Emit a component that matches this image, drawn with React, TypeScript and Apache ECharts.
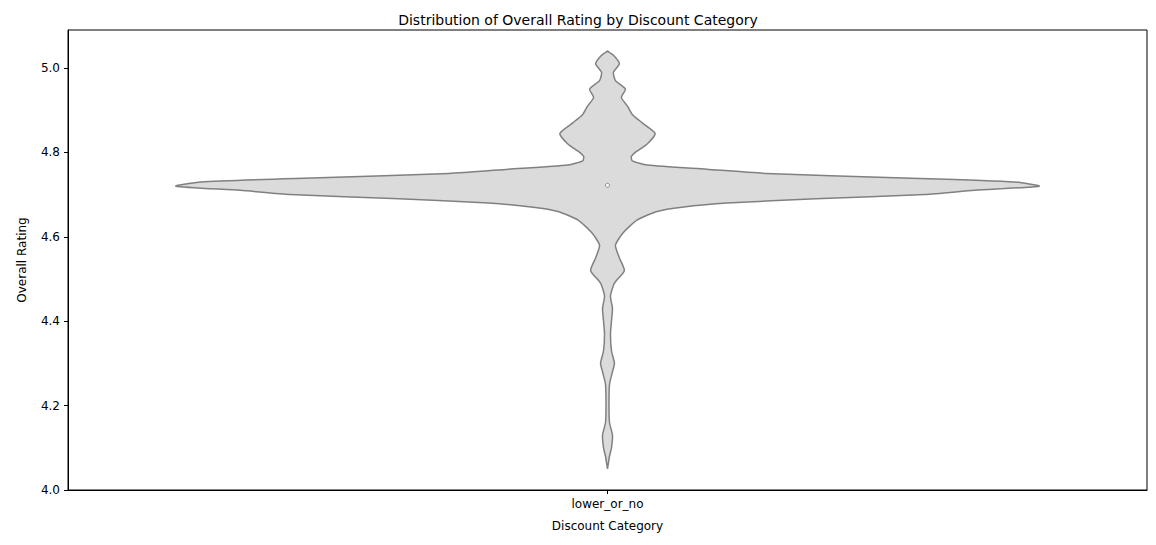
import React, { useRef, useEffect } from 'react'
import * as echarts from 'echarts'

const category = 'lower_or_no'
// rating values along the violin outline
const ratings = [4.05, 4.08, 4.1, 4.13, 4.16, 4.2, 4.25, 4.28, 4.3, 4.33, 4.37, 4.4, 4.43, 4.46, 4.49, 4.52, 4.55, 4.58, 4.61, 4.64, 4.66, 4.67, 4.68, 4.69, 4.7, 4.71, 4.72, 4.73, 4.74, 4.75, 4.76, 4.77, 4.78, 4.79, 4.8, 4.82, 4.845, 4.87, 4.89, 4.91, 4.93, 4.95, 4.97, 4.99, 5.01, 5.03, 5.04]
// relative density at each rating
const density = [0, 2, 4, 5, 2, 1.5, 2, 5, 7, 4, 3, 4, 5, 3, 7, 17, 12, 8, 16, 30, 50, 75, 120, 210, 320, 370, 435, 410, 290, 160, 100, 40, 25, 24, 28, 40, 48, 35, 25, 20, 14, 18, 8, 6, 12, 6, 0]
const median = 4.722
const yTicks = [4.0, 4.2, 4.4, 4.6, 4.8, 5.0]

export default function App() {
  const chartRef = useRef(null)

  useEffect(() => {
    const chart = echarts.init(chartRef.current, null, { renderer: 'svg' })
    const maxD = Math.max(...density)
    const halfW = density.map((d) => (d / maxD) * 0.4)

    const option = {
      animation: false,
      textStyle: { fontFamily: 'DejaVu Sans' },
      title: {
        text: 'Distribution of Overall Rating by Discount Category',
        left: 'center',
        top: 0,
        textStyle: { fontSize: 14, fontWeight: 'normal', color: '#000' },
      },
      grid: { left: 53, right: 1, top: 22, bottom: 45, show: true, borderColor: '#000', borderWidth: 1 },
      xAxis: {
        type: 'value',
        min: -0.5,
        max: 0.5,
        interval: 0.5,
        name: 'Discount Category',
        nameLocation: 'middle',
        nameGap: 30,
        nameTextStyle: { fontSize: 12, color: '#000' },
        axisLine: { show: true, onZero: false, lineStyle: { color: '#000' } },
        axisTick: { show: true, length: 4, lineStyle: { color: '#000' }, customValues: [0] },
        axisLabel: { color: '#000', fontSize: 12, customValues: [0], formatter: () => category },
        splitLine: { show: false },
      },
      yAxis: {
        type: 'value',
        min: 4.0,
        max: 5.09,
        interval: 0.2,
        name: 'Overall Rating',
        nameLocation: 'middle',
        nameGap: 40,
        nameTextStyle: { fontSize: 12, color: '#000' },
        axisLine: { show: true, onZero: false, lineStyle: { color: '#000' } },
        axisTick: { show: true, length: 4, lineStyle: { color: '#000' }, customValues: yTicks },
        axisLabel: { color: '#000', fontSize: 12, customValues: yTicks, formatter: (v: number) => v.toFixed(1) },
        splitLine: { show: false },
      },
      series: [
        {
          type: 'custom',
          data: [0],
          renderItem: (params: any, api: any) => {
            const right = ratings.map((r, i) => api.coord([halfW[i], r]))
            const left = ratings.map((r, i) => api.coord([-halfW[i], r])).reverse()
            const c = api.coord([0, median])
            return {
              type: 'group',
              children: [
                {
                  type: 'polygon',
                  shape: { points: right.concat(left), smooth: 0.2 },
                  style: { fill: '#dbdbdb', stroke: '#808080', lineWidth: 1.5 },
                },
                {
                  type: 'circle',
                  shape: { cx: c[0], cy: c[1], r: 2 },
                  style: { fill: '#fff', stroke: '#808080', lineWidth: 1 },
                },
              ],
            }
          },
        },
      ],
    }
    chart.setOption(option)
    return () => chart.dispose()
  }, [])

  return <div ref={chartRef} style={{ width: 1140, height: 529 }}></div>
}
